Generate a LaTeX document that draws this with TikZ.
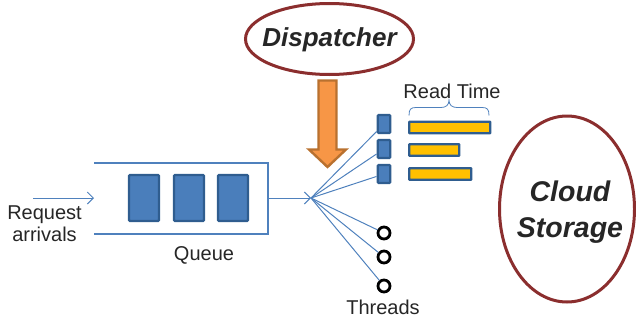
\documentclass[tikz,border=0pt]{standalone}
\usepackage{fontspec}
\setmainfont{Liberation Sans}
\usetikzlibrary{arrows.meta,shapes.geometric}
\definecolor{bluefill}{HTML}{4A7EBB}
\definecolor{blueedge}{HTML}{2F5D8F}
\definecolor{linkblue}{HTML}{4F81BD}
\definecolor{barfill}{HTML}{FFC000}
\definecolor{ringred}{HTML}{8B2E2E}
\definecolor{orangefill}{HTML}{F79646}
\definecolor{orangeedge}{HTML}{B9712F}
\definecolor{txt}{HTML}{262626}
\tikzset{
 qbox/.style={draw=blueedge,fill=bluefill,line width=2.4pt,rounded corners=1pt,minimum width=30pt,minimum height=46pt,inner sep=0pt},
 tbox/.style={draw=blueedge,fill=bluefill,line width=2.4pt,rounded corners=1pt,minimum width=12.5pt,minimum height=18pt,inner sep=0pt},
 bar/.style={draw=blueedge,fill=barfill,line width=2.4pt,rounded corners=0.5pt,minimum height=11.5pt,inner sep=0pt,anchor=west},
 ring/.style={draw=black,fill=white,line width=2.8pt,circle,minimum size=12pt,inner sep=0pt},
 link/.style={draw=linkblue,line width=1pt},
 arr/.style={link,-{Straight Barb[length=6pt,width=12pt,line width=1pt]}},
 cloud/.style={draw=ringred,fill=white,line width=3pt,ellipse,inner sep=0pt},
 cloudtxt/.style={inner sep=0pt,align=center,text=txt},
 lab/.style={font=\fontsize{20}{21.5}\selectfont,text=txt,inner sep=0pt,align=center}
}
\begin{document}
\begin{tikzpicture}[x=1pt,y=-1pt]
\useasboundingbox (0,0) rectangle (636,324);
\node[cloud,minimum width=168pt,minimum height=71pt] (disp) at (329.5,39) {};
\node[cloudtxt,font=\fontsize{26}{32}\selectfont\bfseries\itshape] (disptxt) at (329.5,40) {Dispatcher};
\node[cloud,minimum width=135pt,minimum height=186pt] (cloudst) at (567,209) {};
\node[cloudtxt,font=\fontsize{28.5}{36}\selectfont\bfseries\itshape] (cloudtxt) at (570,212) {Cloud\\Storage};
% orange arrow
\draw[draw=orangeedge,fill=orangefill,line width=2.4pt,line join=miter] (318.5,80.5) -- (336.5,80.5) -- (336.5,149.5) -- (346,149.5) -- (327.5,167) -- (309,149.5) -- (318.5,149.5) -- cycle;
% queue
\draw[draw=linkblue,line width=1.8pt] (94,163) -- (268,163) -- (268,234) -- (94,234);
\node[qbox] (q1) at (144,198) {};
\node[qbox] (q2) at (189,198) {};
\node[qbox] (q3) at (233,198) {};
\coordinate (start) at (33,198);
\coordinate (qin) at (94,198);
\coordinate (qout) at (268,198);
\coordinate (hub) at (311,198);
\draw[arr] (start) -- (qin);
\draw[arr] (qout) -- (hub);
% threads
\node[tbox] (t1) at (384,124) {};
\node[tbox] (t2) at (384,149) {};
\node[tbox] (t3) at (384,174) {};
\node[ring] (c1) at (384,233) {};
\node[ring] (c2) at (384,257) {};
\node[ring] (c3) at (384,286) {};
\draw[link] (hub) -- (t1);
\draw[link] (hub) -- (t2);
\draw[link] (hub) -- (t3);
\draw[link] (hub) -- (c1);
\draw[link] (hub) -- (c2);
\draw[link] (hub) -- (c3);
% bars
\node[bar,minimum width=81pt] (b1) at (408,127.5) {};
\node[bar,minimum width=50pt] (b2) at (408,150) {};
\node[bar,minimum width=62pt] (b3) at (408,174) {};
% brace
\draw[draw=linkblue,line width=0.8pt] (409,115.5) .. controls (409,109) and (411,107.5) .. (416,107.5) -- (441,107.5) .. controls (446,107.5) and (449,105) .. (449,100) .. controls (449,105) and (452,107.5) .. (457,107.5) -- (482,107.5) .. controls (487,107.5) and (489,109) .. (489,115.5);
% labels
\node[lab] (rt) at (452,91) {Read Time};
\node[lab] (req) at (44.5,223.5) {Request\\arrivals};
\node[lab] (qu) at (204,255) {Queue};
\node[lab] (th) at (383,307.5) {Threads};
\end{tikzpicture}
\end{document}
